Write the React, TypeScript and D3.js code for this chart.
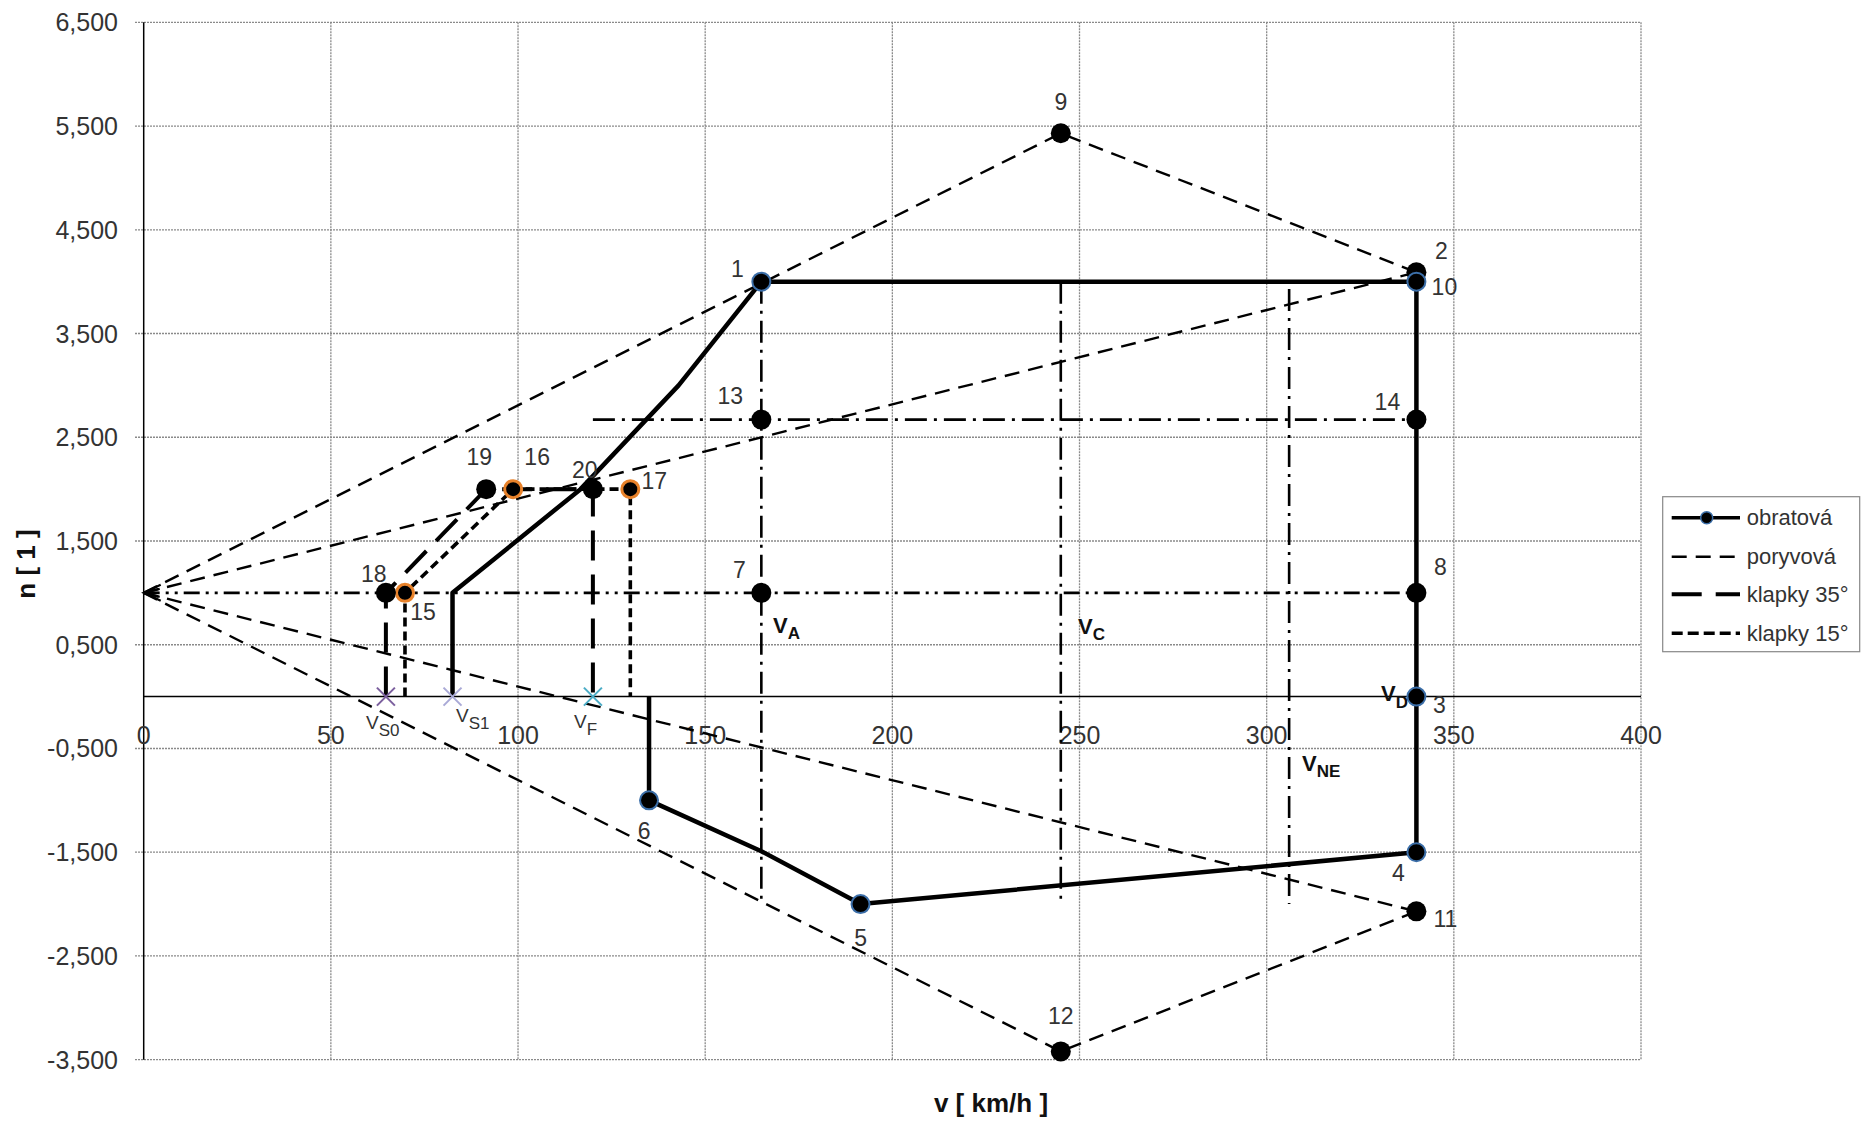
import React from "react";
import * as d3 from "d3";

// ---------- data ----------
const xTicks = [0, 50, 100, 150, 200, 250, 300, 350, 400];
const yTicks = [-3.5, -2.5, -1.5, -0.5, 0.5, 1.5, 2.5, 3.5, 4.5, 5.5, 6.5];

const pointNames = ["1", "2", "3", "4", "5", "6", "7", "8", "9", "10", "11", "12", "13", "14", "15", "16", "17", "18", "19", "20"];
const pointV = [165, 340, 340, 340, 191.5, 135, 165, 340, 245, 340, 340, 245, 165, 340, 69.8, 98.7, 130, 64.7, 91.5, 120];
const pointN = [4.0, 4.09, 0, -1.5, -2.0, -1.0, 1.0, 1.0, 5.43, 4.0, -2.07, -3.42, 2.67, 2.67, 1.0, 2.0, 2.0, 1.0, 2.0, 2.0];
const maneuverPointNames = ["1", "10", "3", "4", "5", "6"];
const flap15PointNames = ["15", "16", "17"];

// obratová (maneuver envelope)
const maneuverV = [82.5, 82.5, 116.7, 142.9, 165, 340, 340, 340, 191.5, 165, 135, 135];
const maneuverN = [0, 1, 2, 3, 4, 4, 0, -1.5, -2.0, -1.49, -1.0, 0];

// poryvová (gust lines)
const gustUpperV = [0, 245, 340];
const gustUpperN = [1, 5.43, 4.09];
const gustUpV = [0, 340];
const gustUpN = [1, 4.09];
const gustDownV = [0, 340];
const gustDownN = [1, -2.07];
const gustLowerV = [0, 245, 340];
const gustLowerN = [1, -3.42, -2.07];

// klapky
const flap35V = [64.7, 64.7, 91.5, 120, 120];
const flap35N = [0, 1, 2, 2, 0];
const flap15V = [69.8, 69.8, 98.7, 130, 130];
const flap15N = [0, 1, 2, 2, 0];

// reference lines
const lineN1V = [0, 340];
const lineN1N = [1, 1];
const lineN267V = [120, 340];
const lineN267N = [2.67, 2.67];
const vaLineV = [165, 165];
const vaLineN = [4, -2];
const vcLineV = [245, 245];
const vcLineN = [4, -2];
const vneLineV = [306, 306];
const vneLineN = [3.93, -2];

// stall / flap speed marks on n = 0
const markNames = ["S0", "S1", "F"];
const markV = [64.7, 82.5, 120];

const legendNames = ["obratová", "poryvová", "klapky 35°", "klapky 15°"];

// ---------- layout ----------
const W = 1862;
const H = 1121;
const FONT = "'Liberation Sans', Arial, sans-serif";
const TXT = "#333";

const x = d3.scaleLinear().domain([0, 400]).range([143.7, 1641]);
const y = d3.scaleLinear().domain([-3.5, 6.5]).range([1059.7, 22.3]);

const line = (vs: number[], ns: number[]) =>
  d3.line<number>().x((_, i) => x(vs[i])).y((_, i) => y(ns[i]))(vs) || "";

const fmtY = (v: number) => d3.format(".3f")(v).replace(".", ",").replace("−", "-");

const labelOffsets: Record<string, [number, number]> = {
  "1": [-24, -13], "2": [25, -21], "3": [23, 8], "4": [-18, 21], "5": [0, 34],
  "6": [-5, 31], "7": [-22, -23], "8": [24, -26], "9": [0, -31], "10": [28, 5],
  "11": [29, 8], "12": [0, -35], "13": [-31, -24], "14": [-29, -18], "15": [18, 19],
  "16": [24, -32], "17": [24, -8], "18": [-12, -19], "19": [-7, -32], "20": [-8, -19],
};

const markColors = ["#7b5f9e", "#a9a9d6", "#4bacc6"];
const markLabelPos: [number, number][] = [[366, 729], [456, 722], [574, 728]];

const gustStyle = { stroke: "#000", strokeWidth: 2.4, strokeDasharray: "15,9", fill: "none" };
const dashDot = { stroke: "#000", strokeWidth: 2.6, strokeDasharray: "22,7,3,7", fill: "none" };
const dashDotDot = { stroke: "#000", strokeWidth: 2.6, strokeDasharray: "16,6,3,6,3,6", fill: "none" };
const flap35Style = { stroke: "#000", strokeWidth: 4, strokeDasharray: "30,14", fill: "none" };
const flap15Style = { stroke: "#000", strokeWidth: 3.6, strokeDasharray: "9,5", fill: "none" };
const maneuverStyle = { stroke: "#000", strokeWidth: 4.5, fill: "none", strokeLinejoin: "round" as const };

export default function App() {
  const tipX = x(0);
  const tipY = y(1);
  const legendY = [517.7, 556.7, 594.3, 633.3];

  return (
    <svg width={W} height={H} style={{ position: "absolute", left: 0, top: 0, background: "#fff" }} fontFamily={FONT}>
      <rect x={0} y={0} width={W} height={H} fill="#fff" />
      {/* gridlines */}
      {yTicks.map((t) => (
        <line key={"gy" + t} x1={135} x2={x(400)} y1={y(t)} y2={y(t)} stroke="#8a8a8a" strokeWidth={1.3} strokeDasharray="2,1" />
      ))}
      {xTicks.filter((t) => t > 0).map((t) => (
        <line key={"gx" + t} x1={x(t)} x2={x(t)} y1={y(6.5)} y2={y(-3.5)} stroke="#8a8a8a" strokeWidth={1.3} strokeDasharray="2,1" />
      ))}
      {/* axes */}
      <line x1={x(0)} x2={x(0)} y1={y(6.5)} y2={y(-3.5)} stroke="#000" strokeWidth={1.5} />
      <line x1={x(0)} x2={x(400)} y1={y(0)} y2={y(0)} stroke="#000" strokeWidth={1.5} />

      {/* tick labels */}
      {yTicks.map((t) => (
        <text key={"ly" + t} x={118} y={y(t)} textAnchor="end" dominantBaseline="central" fontSize={25} fill={TXT}>
          {fmtY(t)}
        </text>
      ))}
      {xTicks.map((t) => (
        <text key={"lx" + t} x={x(t)} y={735} textAnchor="middle" dominantBaseline="central" fontSize={25} fill={TXT}>
          {t}
        </text>
      ))}

      {/* axis titles */}
      <text x={991} y={1103} textAnchor="middle" dominantBaseline="central" fontSize={26} fontWeight="bold" fill="#111">
        v [ km/h ]
      </text>
      <text transform="translate(26,564) rotate(-90)" textAnchor="middle" dominantBaseline="central" fontSize={26} fontWeight="bold" fill="#111">
        n [ 1 ]
      </text>

      {/* reference lines */}
      <path d={line(lineN1V, lineN1N)} {...dashDotDot} />
      <path d={line(lineN267V, lineN267N)} {...dashDot} />
      <path d={line(vaLineV, vaLineN)} {...dashDot} />
      <path d={line(vcLineV, vcLineN)} {...dashDot} />
      <path d={line(vneLineV, vneLineN)} {...dashDot} />

      {/* gust lines */}
      <path d={line(gustUpperV, gustUpperN)} {...gustStyle} />
      <path d={line(gustUpV, gustUpN)} {...gustStyle} />
      <path d={line(gustDownV, gustDownN)} {...gustStyle} />
      <path d={line(gustLowerV, gustLowerN)} {...gustStyle} />
      {/* arrow head at origin of gust lines */}
      <g stroke="#000" strokeWidth={2.2} fill="none">
        <path d={`M${tipX + 17},${tipY - 8} L${tipX},${tipY} L${tipX + 17},${tipY + 8}`} />
        <path d={`M${tipX + 16},${tipY - 4} L${tipX},${tipY} L${tipX + 16},${tipY + 4}`} />
        <path d={`M${tipX + 15},${tipY} L${tipX},${tipY}`} />
      </g>

      {/* flap lines */}
      <path d={line(flap15V, flap15N)} {...flap15Style} />
      <path d={line(flap35V, flap35N)} {...flap35Style} />

      {/* maneuver envelope */}
      <path d={line(maneuverV, maneuverN)} {...maneuverStyle} />

      {/* speed marks */}
      {markV.map((v, i) => (
        <g key={"m" + i} stroke={markColors[i]} strokeWidth={2}>
          <line x1={x(v) - 9} x2={x(v) + 9} y1={y(0) - 9} y2={y(0) + 9} />
          <line x1={x(v) - 9} x2={x(v) + 9} y1={y(0) + 9} y2={y(0) - 9} />
        </g>
      ))}
      {markNames.map((nm, i) => (
        <text key={"ml" + i} x={markLabelPos[i][0]} y={markLabelPos[i][1]} fontSize={19} fill={TXT}>
          V<tspan fontSize={17} dy={7}>{nm}</tspan>
        </text>
      ))}

      {/* points */}
      {pointNames.map((nm, i) => {
        const cx = x(pointV[i]);
        const cy = y(pointN[i]);
        if (maneuverPointNames.includes(nm))
          return <circle key={"p" + nm} cx={cx} cy={cy} r={9} fill="#000" stroke="#3b6ea8" strokeWidth={2} />;
        if (flap15PointNames.includes(nm))
          return <circle key={"p" + nm} cx={cx} cy={cy} r={8.5} fill="#000" stroke="#e8822a" strokeWidth={3} />;
        return <circle key={"p" + nm} cx={cx} cy={cy} r={10} fill="#000" />;
      })}
      {pointNames.map((nm, i) => (
        <text key={"pl" + nm} x={x(pointV[i]) + labelOffsets[nm][0]} y={y(pointN[i]) + labelOffsets[nm][1]}
          textAnchor="middle" dominantBaseline="central" fontSize={23} fill={TXT}>
          {nm}
        </text>
      ))}

      {/* speed labels */}
      <text x={773} y={633} fontSize={22} fontWeight="bold" fill="#111">V<tspan fontSize={17} dy={6}>A</tspan></text>
      <text x={1078} y={634} fontSize={22} fontWeight="bold" fill="#111">V<tspan fontSize={17} dy={6}>C</tspan></text>
      <text x={1302} y={771} fontSize={22} fontWeight="bold" fill="#111">V<tspan fontSize={17} dy={6}>NE</tspan></text>
      <text x={1381} y={701} fontSize={22} fontWeight="bold" fill="#111">V<tspan fontSize={17} dy={7}>D</tspan></text>

      {/* legend */}
      <rect x={1662.7} y={496.7} width={197} height={155} fill="#fff" stroke="#888" strokeWidth={1.2} />
      <line x1={1671.7} x2={1740} y1={legendY[0]} y2={legendY[0]} {...maneuverStyle} strokeWidth={3.5} />
      <circle cx={1706.7} cy={legendY[0]} r={6} fill="#000" stroke="#3b6ea8" strokeWidth={1.5} />
      <line x1={1671.7} x2={1740} y1={legendY[1]} y2={legendY[1]} stroke="#000" strokeWidth={2.4} strokeDasharray="15,9" />
      <line x1={1671.7} x2={1740} y1={legendY[2]} y2={legendY[2]} stroke="#000" strokeWidth={4} strokeDasharray="30,14" />
      <line x1={1671.7} x2={1740} y1={legendY[3]} y2={legendY[3]} stroke="#000" strokeWidth={3.6} strokeDasharray="11,5" />
      {legendNames.map((nm, i) => (
        <text key={"lg" + i} x={1746.7} y={legendY[i]} dominantBaseline="central" fontSize={22} fill={TXT}>
          {nm}
        </text>
      ))}
    </svg>
  );
}
